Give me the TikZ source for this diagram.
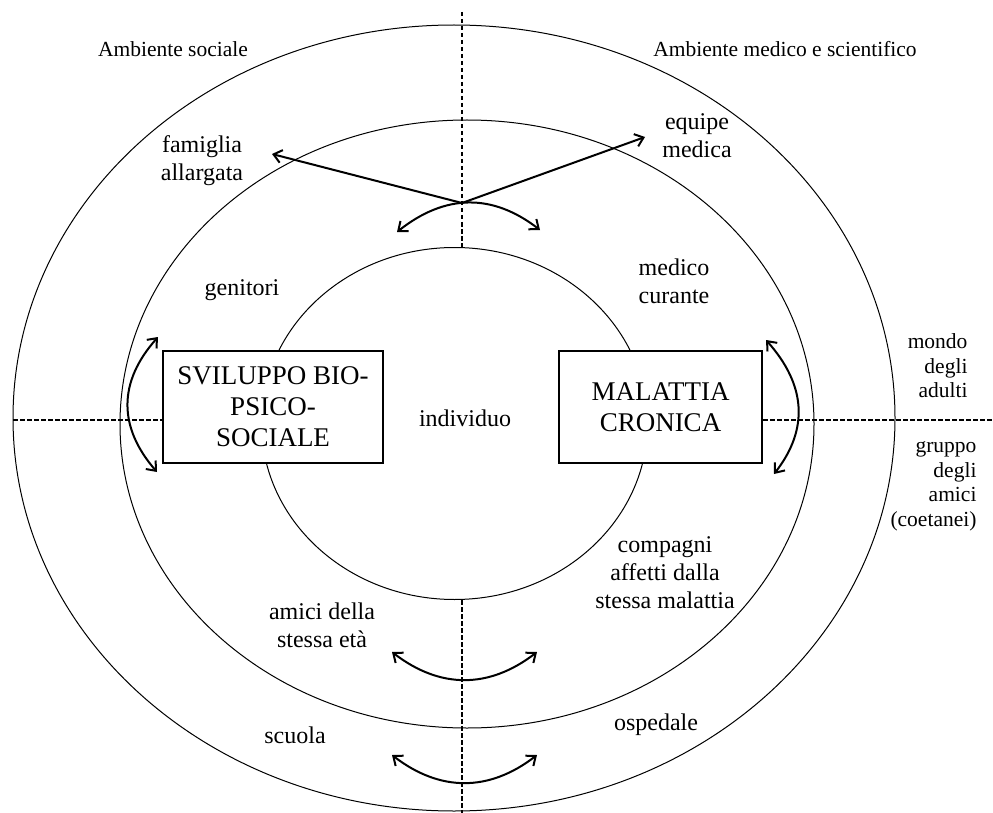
\documentclass[tikz,border=0pt]{standalone}
\usepackage{fontspec}
\setmainfont{Liberation Serif}
\usetikzlibrary{arrows.meta,shapes.geometric}
\begin{document}
\begin{tikzpicture}[x=1pt,y=-1pt,
  ring/.style={draw, ellipse, inner sep=0pt, line width=1pt},
  divider/.style={line width=1.4pt, dash pattern=on 4.5pt off 2.5pt},
  stagebox/.style={draw, rectangle, line width=2.4pt, inner sep=0pt, align=center,
    font=\fontsize{27}{31}\selectfont},
  ringtext/.style={align=center, font=\fontsize{24}{28}\selectfont},
  sidetext/.style={align=center, font=\fontsize{21.5}{24.5}\selectfont},
  tip/.tip={Straight Barb[length=8pt,width=13pt]},
  linkarrow/.style={line width=2pt, -tip},
  swingarrow/.style={line width=2pt, tip-tip},
]
\useasboundingbox (0,0) rectangle (993,813);

% concentric rings
\node[ring, minimum width=882pt, minimum height=786pt] (outer) at (454,418) {};
\node[ring, minimum width=694pt, minimum height=608pt] (middle) at (467,424) {};
\node[ring, minimum width=386pt, minimum height=352pt] (inner) at (454.5,423.5) {};

% central boxes
\node[stagebox, fill=white, minimum width=220pt, minimum height=112pt] (sviluppo) at (273,407)
  {SVILUPPO BIO-\\PSICO-\\SOCIALE};
\node[stagebox, fill=white, minimum width=203pt, minimum height=112pt] (malattia) at (660.5,407)
  {MALATTIA\\CRONICA};

% dividing axes
\coordinate (vtop) at (462,12);
\coordinate (vbot) at (462,813);
\coordinate (hleft) at (13,420);
\coordinate (hright) at (993,420);
\draw[divider] (vtop) -- (vtop |- inner.north);
\draw[divider] (vtop |- inner.south) -- (vbot);
\draw[divider] (hleft) -- (hleft -| sviluppo.west);
\draw[divider] (hleft -| malattia.east) -- (hright);

% labels
\node[sidetext] (social) at (173,49) {Ambiente sociale};
\node[sidetext] (medenv) at (785,49) {Ambiente medico e scientifico};
\node[ringtext] (famiglia) at (202,161) {famiglia\\allargata};
\node[ringtext] (equipe) at (697,135.5) {equipe\\medica};
\node[ringtext] (genitori) at (242,290) {genitori};
\node[ringtext] (curante) at (674,281) {medico\\curante};
\node[ringtext] (individuo) at (465,418) {individuo};
\node[ringtext] (compagni) at (665,573) {compagni\\affetti dalla\\stessa malattia};
\node[ringtext] (amici) at (322,625.5) {amici della\\stessa età};
\node[ringtext] (scuola) at (295,735) {scuola};
\node[ringtext] (ospedale) at (656,725) {ospedale};
\node[sidetext, align=right, anchor=east] (adulti) at (971,366) {mondo\\degli\\adulti};
\node[sidetext, align=right, anchor=east] (coetanei) at (980,486.5) {gruppo\\degli\\amici\\(coetanei)};

% arrows
\coordinate (hub) at (462,203);
\coordinate (famtip) at (272,154);
\coordinate (equtip) at (645,137);
\draw[linkarrow] (hub) -- (famtip);
\draw[linkarrow] (hub) -- (equtip);

\coordinate (topL) at (397,232);
\coordinate (topR) at (540,230);
\draw[swingarrow] (topL) .. controls +(48,-38) and +(-48,-37) .. (topR);

\coordinate (leftT) at (158,337);
\coordinate (leftB) at (157,472);
\draw[swingarrow] (leftT) .. controls +(-40,45) and +(-39,-45) .. (leftB);

\coordinate (rightT) at (766,340);
\coordinate (rightB) at (774,474);
\draw[swingarrow] (rightT) .. controls +(40,45) and +(35,-45) .. (rightB);

\coordinate (amiciL) at (392,652);
\coordinate (amiciR) at (537,652);
\draw[swingarrow] (amiciL) .. controls +(48,37) and +(-48,37) .. (amiciR);

\coordinate (scuolaL) at (392,755);
\coordinate (scuolaR) at (537,755);
\draw[swingarrow] (scuolaL) .. controls +(48,37) and +(-48,37) .. (scuolaR);
\end{tikzpicture}
\end{document}
